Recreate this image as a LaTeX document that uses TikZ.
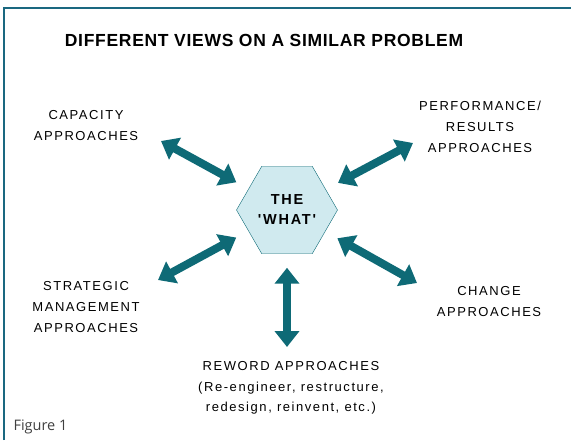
\documentclass[tikz,border=0pt]{standalone}
\usepackage{fontspec}
\setmainfont{Liberation Sans}
\newfontfamily\figfont{Open Sans}
\usetikzlibrary{arrows.meta,shapes.geometric}
\definecolor{frameteal}{RGB}{26,104,128}
\definecolor{arrowteal}{RGB}{14,106,118}
\definecolor{hexfill}{RGB}{208,234,239}
\tikzset{
  approach/.style={align=center, font=\addfontfeature{LetterSpace=12}\fontsize{13}{21}\selectfont},
  dblarrow/.style={<->, arrowteal, line width=8pt},
}
\begin{document}
\begin{tikzpicture}[x=1pt, y=-1pt, >={Triangle[width=24pt,length=16pt]}]
  \useasboundingbox (0,0) rectangle (571,440);
  % Frame
  \draw[frameteal, line width=2.5pt] (4,440) -- (4,8) -- (571,8);

  % Nodes
  \node[font=\bfseries\addfontfeature{LetterSpace=4}\fontsize{17.5}{20}\selectfont] (title) at (264,40) {DIFFERENT VIEWS ON A SIMILAR PROBLEM};
  \node[regular polygon, regular polygon sides=6, minimum size=101pt, inner sep=0pt, outer sep=14pt,
        draw=arrowteal, fill=hexfill, align=center,
        font=\bfseries\addfontfeature{LetterSpace=12,Ligatures=TeXOff}\fontsize{14.5}{20}\selectfont] (what) at (287,210) {THE\\'WHAT'};
  \node[approach] (capacity) at (86,126) {CAPACITY\\APPROACHES};
  \node[approach] (perform) at (480,127) {PERFORMANCE/\\RESULTS\\APPROACHES};
  \node[approach] (strategic) at (86,307) {STRATEGIC\\MANAGEMENT\\APPROACHES};
  \node[approach] (change) at (489,302) {CHANGE\\APPROACHES};
  \node[font=\addfontfeature{LetterSpace=12}\fontsize{13}{20.5}\selectfont] (reword) at (291,387)
       {\begin{tabular}{@{}c@{}}REWORD APPROACHES\\(Re-engineer, restructure, \\redesign, reinvent, etc.)\end{tabular}};
  \node[anchor=west, text=black!75, font=\figfont\fontsize{14.5}{16}\selectfont] (fig) at (10,427) {Figure 1};

  % Arrow ends
  \coordinate (capA) at (161,141);
  \coordinate (perfA) at (413,143);
  \coordinate (stratA) at (158,280);
  \coordinate (changeA) at (417,283);
  \coordinate (rewordA) at (287,347);

  % Paths
  \draw[dblarrow] (what) -- (capA);
  \draw[dblarrow] (what) -- (perfA);
  \draw[dblarrow] (what) -- (stratA);
  \draw[dblarrow] (what) -- (changeA);
  \draw[dblarrow] (what) -- (rewordA);
\end{tikzpicture}
\end{document}
